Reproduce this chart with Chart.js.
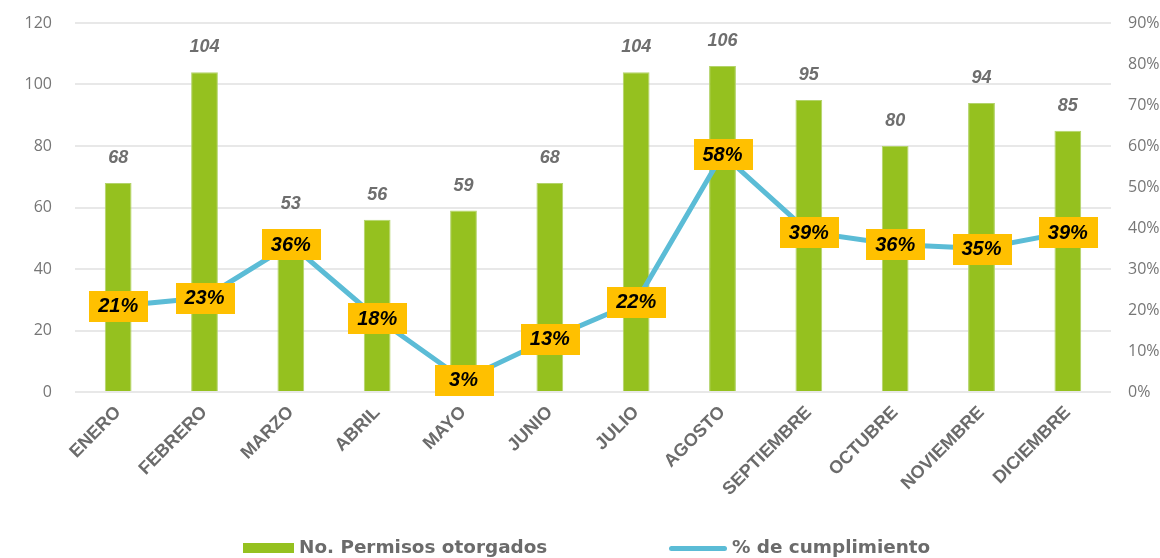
<!DOCTYPE html>
<html>
<head>
<meta charset="utf-8">
<script src="https://cdn.jsdelivr.net/npm/chart.js@4"></script>
<style>
  html,body{margin:0;padding:0;background:#fff;}
  #caja{position:relative;width:1160px;height:558px;overflow:hidden;}
  #leyenda{position:absolute;left:0;top:536px;width:1160px;height:22px;
    font:bold 18.4px "DejaVu Sans",sans-serif;color:#6b6b6b;}
  .item{position:absolute;top:0;line-height:22px;white-space:nowrap;}
  .item i{display:inline-block;vertical-align:middle;margin-right:5px;}
</style>
</head>
<body>
<div id="caja">
  <canvas id="grafico" width="1160" height="558"></canvas>
  <div id="leyenda">
    <span class="item" style="left:243px"><i style="width:51px;height:10px;background:#95c11f"></i>No. Permisos otorgados</span>
    <span class="item" style="left:669px"><i style="width:58px;height:5px;border-radius:3px;background:#5bbcd6"></i>% de cumplimiento</span>
  </div>
</div>
<script>
/* ===================== datos ===================== */
const MESES    = ['ENERO','FEBRERO','MARZO','ABRIL','MAYO','JUNIO','JULIO','AGOSTO','SEPTIEMBRE','OCTUBRE','NOVIEMBRE','DICIEMBRE'];
const PERMISOS = [68,104,53,56,59,68,104,106,95,80,94,85];
const CUMPLIM  = [21,23,36,18,3,13,22,58,39,36,35,39];   // en %

const TICKS_IZQ = [0,20,40,60,80,100,120];
const TICKS_DER = [0,10,20,30,40,50,60,70,80,90];

const VERDE='#95c11f', AZUL='#5bbcd6', AMARILLO='#ffc000', GRIS='#767676';

/* ---------- etiquetas de datos ---------- */
const etiquetas={
  id:'etiquetas',
  afterDatasetsDraw(chart){
    const ctx=chart.ctx;
    const barras=chart.getDatasetMeta(1).data;
    const puntos=chart.getDatasetMeta(0).data;
    ctx.save();
    ctx.textAlign='center'; ctx.textBaseline='middle';

    ctx.font='italic bold 18px "Liberation Sans", Arial, sans-serif';
    ctx.fillStyle='#6e6e6e';
    barras.forEach((b,i)=>ctx.fillText(PERMISOS[i], b.x, b.y-25));

    ctx.font='italic bold 20px "Liberation Sans", Arial, sans-serif';
    puntos.forEach((p,i)=>{
      ctx.fillStyle=AMARILLO;
      ctx.fillRect(Math.round(p.x-29), Math.round(p.y-15), 59, 31);
      ctx.fillStyle='#000';
      ctx.fillText(CUMPLIM[i]+'%', p.x, p.y+1);
    });
    ctx.restore();
  }
};

/* ---------- gráfico ---------- */
const ctx=document.getElementById('grafico').getContext('2d');
new Chart(ctx,{
  data:{
    labels:MESES,
    datasets:[
      {type:'line', label:'% de cumplimiento', data:CUMPLIM, yAxisID:'yDer',
       borderColor:AZUL, borderWidth:5, pointRadius:0, tension:0, order:0},
      {type:'bar', label:'No. Permisos otorgados', data:PERMISOS, yAxisID:'yIzq',
       backgroundColor:VERDE, borderColor:'#b3d36a', borderWidth:{left:1,right:1,top:1,bottom:0},
       barPercentage:0.31, categoryPercentage:1, order:1}
    ]
  },
  options:{
    responsive:false,
    animation:false,
    layout:{padding:{top:23,left:0,right:0,bottom:0}},
    plugins:{legend:{display:false}, tooltip:{enabled:false}},
    scales:{
      x:{
        grid:{display:false, drawTicks:false},
        border:{display:false},
        ticks:{color:'#6b6b6b', minRotation:45, maxRotation:45, padding:10,
               font:{family:'"Liberation Sans", Arial, sans-serif', size:18, weight:'bold'}},
        afterFit:s=>{s.height=166;}
      },
      yIzq:{
        position:'left', min:0, max:120,
        afterBuildTicks:s=>{s.ticks=TICKS_IZQ.map(v=>({value:v}));},
        grid:{color:'#e8e8e8', lineWidth:2, tickLength:11, tickColor:'rgba(0,0,0,0)'},
        border:{display:false},
        ticks:{color:GRIS, padding:12, font:{family:'"Open Sans", sans-serif', size:16}},
        afterFit:s=>{s.width=75;}
      },
      yDer:{
        position:'right', min:0, max:90,
        afterBuildTicks:s=>{s.ticks=TICKS_DER.map(v=>({value:v}));},
        grid:{drawOnChartArea:false, tickLength:9, tickColor:'rgba(0,0,0,0)'},
        border:{display:false},
        ticks:{color:GRIS, padding:8, font:{family:'"Open Sans", sans-serif', size:16},
               callback:v=>v+'%'},
        afterFit:s=>{s.width=49;}
      }
    }
  },
  plugins:[etiquetas]
});
</script>
</body>
</html>
